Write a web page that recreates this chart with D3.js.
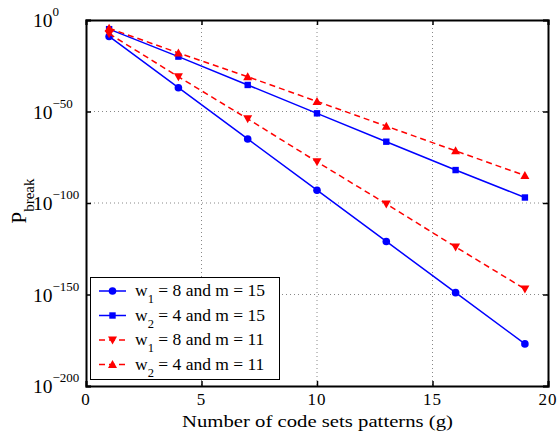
<!DOCTYPE html>
<html>
<head>
<meta charset="utf-8">
<script src="https://cdn.jsdelivr.net/npm/d3@7"></script>
<style>
  body { margin: 0; background: #fff; }
  text { font-family: "Liberation Serif", "DejaVu Serif", serif; fill: #000; }
</style>
</head>
<body>
<div id="chart"></div>
<script>
// number of code set patterns g
var gValues = [1, 4, 7, 10, 13, 16, 19];
// log10 of P_break
var w1m15 = [-9, -37, -65, -93, -121, -149, -177];
var w2m15 = [-5, -20, -35.5, -51, -66.5, -82, -97];
var w1m11 = [-7.5, -31, -54, -77.5, -100.5, -124, -147];
var w2m11 = [-4.5, -18, -31, -44.5, -58, -71.5, -85];

var seriesNames = ["w|1| = 8 and m = 15", "w|2| = 4 and m = 15", "w|1| = 8 and m = 11", "w|2| = 4 and m = 11"];
var xTicks = [0, 5, 10, 15, 20];
var yTickExps = [0, -50, -100, -150, -200];

var W = 559, H = 435;
var margin = {left: 86, right: 11, top: 20, bottom: 49};

var svg = d3.select("#chart").append("svg")
    .attr("width", W).attr("height", H);

var x = d3.scaleLinear().domain([0, 20]).range([margin.left, W - margin.right]);
var y = d3.scaleLog().domain([1e-200, 1]).range([H - margin.bottom, margin.top]);

var series = [
    {name: seriesNames[0], vals: w1m15, color: "#0000ff", dash: null, marker: "circle"},
    {name: seriesNames[1], vals: w2m15, color: "#0000ff", dash: null, marker: "square"},
    {name: seriesNames[2], vals: w1m11, color: "#ff0000", dash: "6,4", marker: "down"},
    {name: seriesNames[3], vals: w2m11, color: "#ff0000", dash: "6,4", marker: "up"}
];

//grid lines
var grid = svg.append("g");
xTicks.slice(1, -1).forEach(function(t){
    grid.append("line")
        .attr("x1", x(t)).attr("x2", x(t))
        .attr("y1", y.range()[1]).attr("y2", y.range()[0])
        .attr("stroke", "#888").attr("stroke-width", 1)
        .attr("stroke-dasharray", "1,3");
});
yTickExps.slice(1, -1).forEach(function(e){
    grid.append("line")
        .attr("x1", x.range()[0]).attr("x2", x.range()[1])
        .attr("y1", y(Math.pow(10, e))).attr("y2", y(Math.pow(10, e)))
        .attr("stroke", "#888").attr("stroke-width", 1)
        .attr("stroke-dasharray", "1,3");
});

//axes with inward ticks on all four sides
var xAxisB = d3.axisBottom(x).tickValues(xTicks).tickSize(-5).tickFormat("");
var xAxisT = d3.axisTop(x).tickValues(xTicks).tickSize(-5).tickFormat("");
var yVals = yTickExps.map(function(e){ return Math.pow(10, e); });
var yAxisL = d3.axisLeft(y).tickValues(yVals).tickSize(-5).tickFormat("");
var yAxisR = d3.axisRight(y).tickValues(yVals).tickSize(-5).tickFormat("");

[[xAxisB, "translate(0," + y.range()[0] + ")"],
 [xAxisT, "translate(0," + y.range()[1] + ")"],
 [yAxisL, "translate(" + x.range()[0] + ",0)"],
 [yAxisR, "translate(" + x.range()[1] + ",0)"]].forEach(function(a){
    var g = svg.append("g").attr("transform", a[1]).call(a[0]);
    g.select(".domain").attr("stroke", "#000").attr("stroke-width", 2);
    g.selectAll(".tick line").attr("stroke", "#000").attr("stroke-width", 1.5);
});

//tick labels
svg.append("g").selectAll("text").data(xTicks).enter().append("text")
    .attr("x", function(d){ return x(d); })
    .attr("y", 405)
    .attr("text-anchor", "middle")
    .style("font-size", "17px")
    .style("letter-spacing", "1px")
    .text(function(d){ return d; });

var yl = svg.append("g").selectAll("text").data(yTickExps).enter().append("text")
    .attr("x", 33)
    .attr("y", function(d){ return y(Math.pow(10, d)) + 7; })
    .style("font-size", "19.5px");
yl.append("tspan").text("10");
yl.append("tspan").attr("dy", -11).style("font-size", "13px")
    .text(function(d){ return d === 0 ? "0" : "\u2212" + (-d); });

//axis titles
svg.append("text")
    .attr("x", 182)
    .attr("y", 427)
    .attr("textLength", 271)
    .attr("lengthAdjust", "spacingAndGlyphs")
    .style("font-size", "17.5px")
    .text("Number of code sets patterns (g)");

var yt = svg.append("text")
    .attr("transform", "translate(26,201) rotate(-90)")
    .attr("text-anchor", "middle")
    .style("font-size", "21px");
yt.append("tspan").text("P");
yt.append("tspan").attr("dy", 8).style("font-size", "15px").text("break");

//markers
function drawMarker(g, type, cx, cy, color){
    if(type == "circle"){
        g.append("circle").attr("cx", cx).attr("cy", cy).attr("r", 3.8).attr("fill", color);
    }
    else if(type == "square"){
        g.append("rect").attr("x", cx - 3.2).attr("y", cy - 3.2)
            .attr("width", 6.4).attr("height", 6.4).attr("fill", color);
    }
    else if(type == "down"){
        g.append("path").attr("d", "M" + (cx - 4.5) + "," + (cy - 3.5) + "L" + (cx + 4.5) + "," + (cy - 3.5) + "L" + cx + "," + (cy + 4.5) + "Z")
            .attr("fill", color);
    }
    else {
        g.append("path").attr("d", "M" + (cx - 4.5) + "," + (cy + 3.5) + "L" + (cx + 4.5) + "," + (cy + 3.5) + "L" + cx + "," + (cy - 4.5) + "Z")
            .attr("fill", color);
    }
}

var line = d3.line()
    .x(function(d){ return x(d[0]); })
    .y(function(d){ return y(Math.pow(10, d[1])); });

series.forEach(function(s){
    var pts = gValues.map(function(g, i){ return [g, s.vals[i]]; });
    var g = svg.append("g");
    g.append("path").datum(pts).attr("d", line)
        .attr("fill", "none").attr("stroke", s.color).attr("stroke-width", 1.5)
        .attr("stroke-dasharray", s.dash);
    pts.forEach(function(p){
        drawMarker(g, s.marker, x(p[0]), y(Math.pow(10, p[1])), s.color);
    });
});

//legend
var lg = svg.append("g");
lg.append("rect").attr("x", 90.5).attr("y", 277.5).attr("width", 189).attr("height", 102)
    .attr("fill", "#fff").attr("stroke", "#000").attr("stroke-width", 1);
series.forEach(function(s, i){
    var ly = 291 + i * 24.5;
    lg.append("line").attr("x1", 99).attr("x2", 126).attr("y1", ly).attr("y2", ly)
        .attr("stroke", s.color).attr("stroke-width", 1.5).attr("stroke-dasharray", s.dash);
    drawMarker(lg, s.marker, 112.5, ly, s.color);
    var parts = s.name.split("|");
    var t = lg.append("text").attr("x", 135).attr("y", ly + 5).style("font-size", "17.5px");
    t.append("tspan").text(parts[0]);
    t.append("tspan").attr("dy", 7).style("font-size", "12.5px").text(parts[1]);
    t.append("tspan").attr("dy", -7).text(parts[2]);
});
</script>
</body>
</html>
